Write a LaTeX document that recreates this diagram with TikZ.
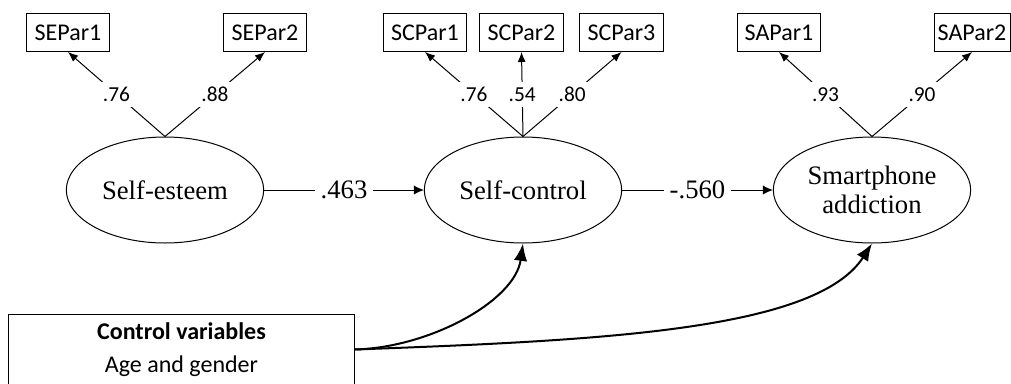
\documentclass[tikz,border=0pt]{standalone}
\usepackage{fontspec}
\setmainfont{Liberation Serif}
\newfontfamily\calibri{Carlito}
\usetikzlibrary{arrows.meta, shapes.geometric}

\begin{document}
\begin{tikzpicture}[x=0.75pt,y=0.75pt,>={Latex[length=7.5pt,width=6pt]},line width=0.75pt,
  latent node/.style={ellipse,draw,minimum width=148pt,minimum height=79.5pt,inner sep=0pt,
    align=center,font=\fontsize{20}{22}\selectfont},
  item node/.style={rectangle,draw,minimum width=62.5pt,minimum height=28.5pt,inner sep=0pt,
    font=\calibri\fontsize{18}{20}\selectfont},
  ctrl node/.style={rectangle,draw,minimum width=259pt,minimum height=53pt,align=center,
    font=\calibri\fontsize{18}{21.75}\selectfont},
  load label/.style={fill=white,inner sep=4pt,font=\calibri\fontsize{16}{18}\selectfont},
  coef label/.style={fill=white,inner xsep=4pt,inner ysep=2pt,font=\fontsize{20}{22}\selectfont}]

  \useasboundingbox (0,0) rectangle (1011,-383);

  % latent variables
  \node[latent node] (se) at (165,-190) {Self-esteem};
  \node[latent node] (sc) at (523,-190) {Self-control};
  \node[latent node] (sa) at (872,-190) {Smartphone\\addiction};

  % indicators
  \node[item node] (se1) at (68,-32.5) {SEPar1};
  \node[item node] (se2) at (265,-32.5) {SEPar2};
  \node[item node] (sc1) at (425,-32.5) {SCPar1};
  \node[item node] (sc2) at (521.5,-32.5) {SCPar2};
  \node[item node] (sc3) at (621.5,-32.5) {SCPar3};
  \node[item node] (sa1) at (779,-32.5) {SAPar1};
  \node[item node,minimum width=57pt] (sa2) at (972,-32.5) {SAPar2};

  \node[ctrl node] (ctrl) at (181.5,-349.5) {\textbf{Control variables}\\[3pt]Age and gender};

  \path[->,every node/.style={load label}]
    (se.north) edge node {.76} (se1.south)
    (se.north) edge node {.88} (se2.south)
    (sc.north) edge node {.76} (sc1.south)
    (sc.north) edge node {.54} (sc2.south)
    (sc.north) edge node {.80} (sc3.south)
    (sa.north) edge node {.93} (sa1.south)
    (sa.north) edge node {.90} (sa2.south);

  \path[-{Latex[length=7.5pt,width=7pt]},every node/.style={coef label}]
    (se) edge node {.463} (sc)
    (sc) edge node {-.560} (sa);

  % control paths
  \draw[-{Latex[length=13pt,width=10pt]},line width=1.5pt]
    (ctrl.east) .. controls +(76,2) and +(-8,-57) .. (sc.south);
  \draw[-{Latex[length=13pt,width=10pt]},line width=1.5pt]
    (ctrl.east) .. controls +(246,9) and +(-56,-87) .. (sa.south);
\end{tikzpicture}
\end{document}
